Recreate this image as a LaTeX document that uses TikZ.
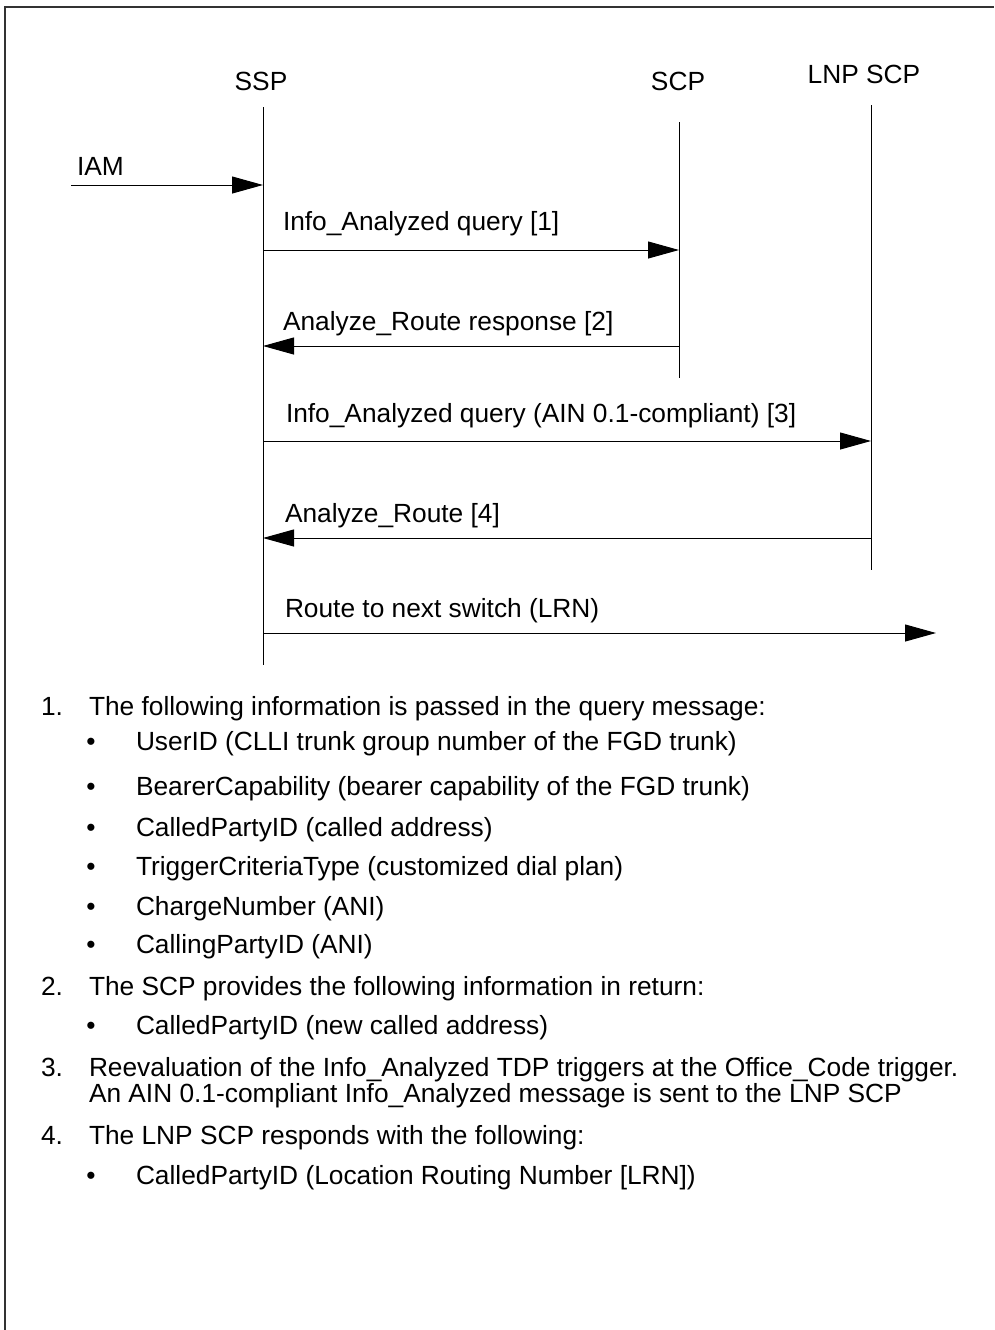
\documentclass[tikz,border=0pt]{standalone}
\usepackage{fontspec}
\setmainfont{Liberation Sans}
\usetikzlibrary{arrows.meta}
\begin{document}
\begin{tikzpicture}[x=1pt,y=-1pt,
  every node/.style={inner sep=0pt,outer sep=0pt,font=\fontsize{26.3}{30}\selectfont},
  head/.style={anchor=base},
  lifeline/.style={line width=1pt,black},
  msg/.style={line width=1pt,black,-{Triangle[length=31pt,width=17pt]}},
  msglabel/.style={anchor=base west},
  numtxt/.style={anchor=base west},
  bullet/.style={anchor=base},
  frameline/.style={line width=2pt,black!80}]
\useasboundingbox (0,0) rectangle (994,1330);
% open frame: left and top edges
\draw[frameline] (5,1330) -- (5,7) -- (994,7);

% entity heads
\node[head] (ssp) at (261,90) {SSP};
\node[head] (scp) at (678,90) {SCP};
\node[head] (lnp) at (864,83) {LNP SCP};

% lifelines
\coordinate (sspT) at (263,107);  \coordinate (sspB) at (263,665);
\coordinate (scpT) at (679,122);  \coordinate (scpB) at (679,378);
\coordinate (lnpT) at (871,105);  \coordinate (lnpB) at (871,570);
\draw[lifeline] (sspT) -- (sspB);
\draw[lifeline] (scpT) -- (scpB);
\draw[lifeline] (lnpT) -- (lnpB);

% message end points
\coordinate (iamS) at (71,185);   \coordinate (iamE) at (263,185);
\coordinate (m1S) at (263,250);   \coordinate (m1E) at (679,250);
\coordinate (m2S) at (679,346);   \coordinate (m2E) at (263,346);
\coordinate (m3S) at (263,441);   \coordinate (m3E) at (871,441);
\coordinate (m4S) at (871,538);   \coordinate (m4E) at (263,538);
\coordinate (m5S) at (263,633);   \coordinate (m5E) at (936,633);

\draw[msg] (iamS) -- (iamE);
\draw[msg] (m1S) -- (m1E);
\draw[msg] (m2S) -- (m2E);
\draw[msg] (m3S) -- (m3E);
\draw[msg] (m4S) -- (m4E);
\draw[msg] (m5S) -- (m5E);

\node[msglabel] (liam) at (77,175) {IAM};
\node[msglabel] (l1) at (283,230) {Info\_Analyzed query [1]};
\node[msglabel] (l2) at (283,330) {Analyze\_Route response [2]};
\node[msglabel] (l3) at (286,422) {Info\_Analyzed query (AIN 0.1-compliant) [3]};
\node[msglabel] (l4) at (285,522) {Analyze\_Route [4]};
\node[msglabel] (l5) at (285,617) {Route to next switch (LRN)};

% notes
\node[numtxt] (n1) at (41,715) {1.};
\node[numtxt] (t1) at (89,715) {The following information is passed in the query message:};
\node[bullet] (b1) at (91,750) {•};
\node[numtxt] (t1a) at (136,750) {UserID (CLLI trunk group number of the FGD trunk)};
\node[bullet] (b2) at (91,795) {•};
\node[numtxt] (t1b) at (136,795) {BearerCapability (bearer capability of the FGD trunk)};
\node[bullet] (b3) at (91,836) {•};
\node[numtxt] (t1c) at (136,836) {CalledPartyID (called address)};
\node[bullet] (b4) at (91,875) {•};
\node[numtxt] (t1d) at (136,875) {TriggerCriteriaType (customized dial plan)};
\node[bullet] (b5) at (91,915) {•};
\node[numtxt] (t1e) at (136,915) {ChargeNumber (ANI)};
\node[bullet] (b6) at (91,953) {•};
\node[numtxt] (t1f) at (136,953) {CallingPartyID (ANI)};
\node[numtxt] (n2) at (41,995) {2.};
\node[numtxt] (t2) at (89,995) {The SCP provides the following information in return:};
\node[bullet] (b7) at (91,1034) {•};
\node[numtxt] (t2a) at (136,1034) {CalledPartyID (new called address)};
\node[numtxt] (n3) at (41,1076) {3.};
\node[numtxt] (t3) at (89,1076) {Reevaluation of the Info\_Analyzed TDP triggers at the Office\_Code trigger.};
\node[numtxt] (t3b) at (89,1102) {An AIN 0.1-compliant Info\_Analyzed message is sent to the LNP SCP};
\node[numtxt] (n4) at (41,1144) {4.};
\node[numtxt] (t4) at (89,1144) {The LNP SCP responds with the following:};
\node[bullet] (b8) at (91,1184) {•};
\node[numtxt] (t4a) at (136,1184) {CalledPartyID (Location Routing Number [LRN])};
\end{tikzpicture}
\end{document}
